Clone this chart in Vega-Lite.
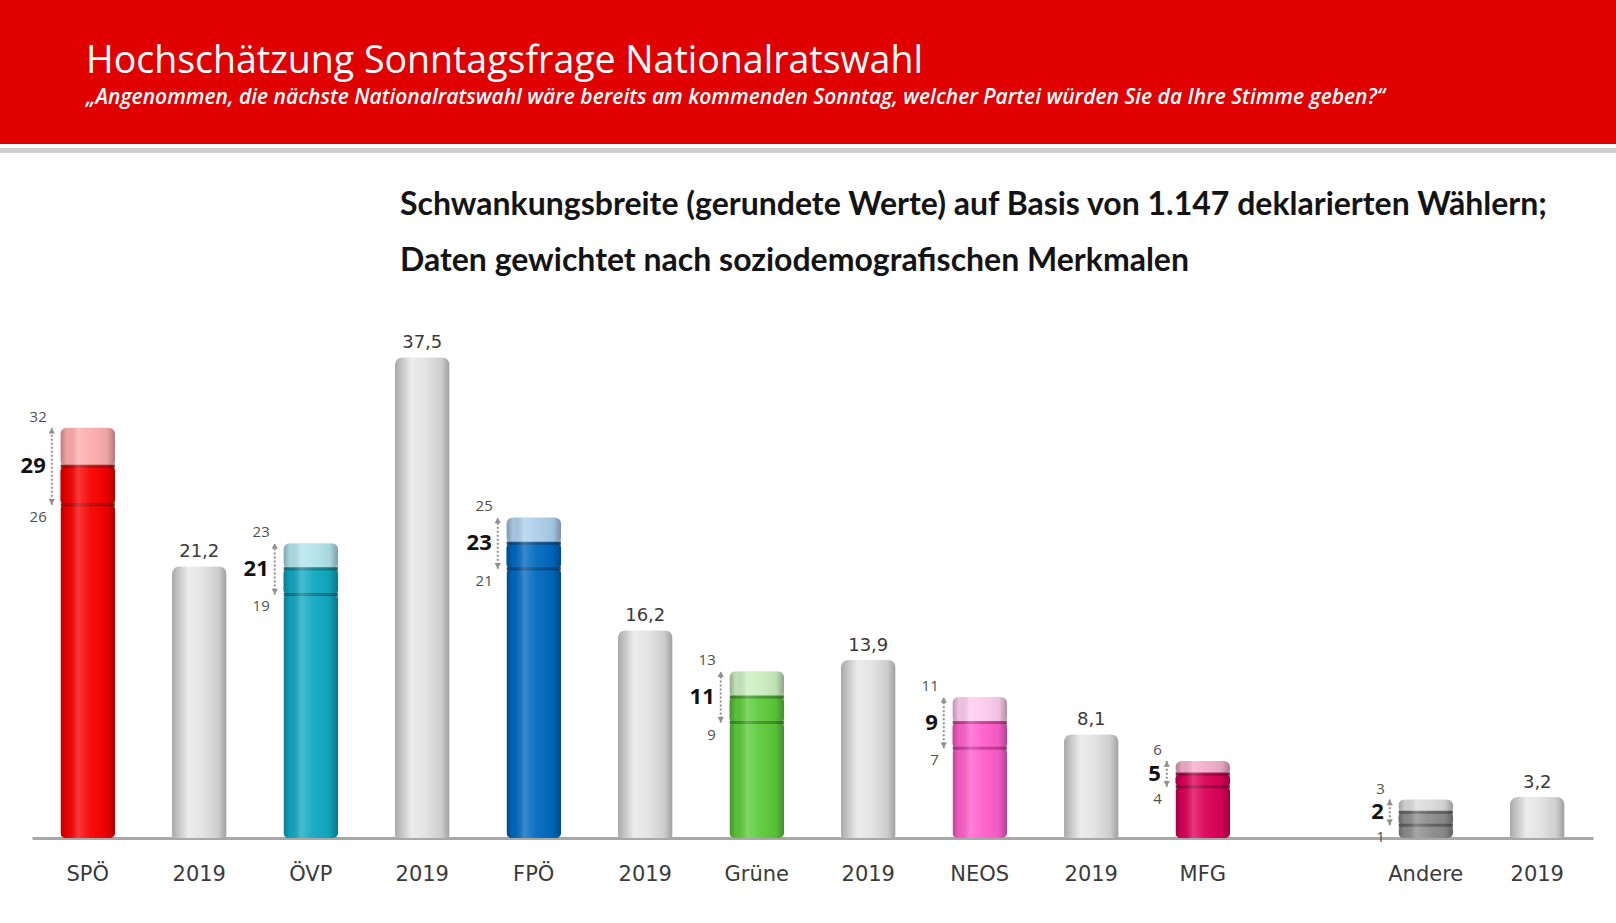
{
  "$schema": "https://vega.github.io/schema/vega-lite/v6.json",
  "padding": 0,
  "background": "white",
  "spacing": 33,
  "config": {
    "view": {"stroke": null},
    "locale": {"number": {"decimal": ",", "thousands": ".", "grouping": [3], "currency": ["", " €"]}}
  },
  "vconcat": [
    {
      "spacing": 0,
      "vconcat": [
        {
          "width": 1616,
          "height": 144,
          "view": {"fill": "#e00000", "stroke": null},
          "title": {
            "text": "Hochschätzung Sonntagsfrage Nationalratswahl",
            "subtitle": "„Angenommen, die nächste Nationalratswahl wäre bereits am kommenden Sonntag, welcher Partei würden Sie da Ihre Stimme geben?“",
            "anchor": "start",
            "orient": "top",
            "offset": -108,
            "dx": 86,
            "font": "Open Sans",
            "fontSize": 37.5,
            "fontWeight": "normal",
            "color": "white",
            "subtitleFont": "Open Sans",
            "subtitleFontSize": 21,
            "subtitleFontStyle": "italic",
            "subtitleFontWeight": 600,
            "subtitleColor": "white",
            "subtitlePadding": 7
          },
          "data": {"values": [{"t": ""}]},
          "mark": "text",
          "encoding": {"text": {"field": "t"}}
        },
        {
          "width": 1616,
          "height": 5,
          "view": {"fill": "#cfcfcf", "stroke": null},
          "data": {"values": [{"t": ""}]},
          "mark": "text",
          "encoding": {"text": {"field": "t"}}
        }
      ]
    },
    {
      "width": 1616,
      "height": 500,
      "title": {
        "text": ["Schwankungsbreite (gerundete Werte) auf Basis von 1.147 deklarierten Wählern;", "Daten gewichtet nach soziodemografischen Merkmalen"],
        "anchor": "start",
        "orient": "top",
        "dx": 400,
        "offset": 56,
        "font": "Lato",
        "fontSize": 32,
        "fontWeight": "bold",
        "color": "#141414",
        "lineHeight": 56
      },
      "data": {"values": [
        {"cat": "SPÖ", "grp": "SPÖ", "value": 29, "low": 26, "high": 32},
        {"cat": "2019|1", "grp": "2019", "value": 21.2},
        {"cat": "ÖVP", "grp": "ÖVP", "value": 21, "low": 19, "high": 23},
        {"cat": "2019|2", "grp": "2019", "value": 37.5},
        {"cat": "FPÖ", "grp": "FPÖ", "value": 23, "low": 21, "high": 25},
        {"cat": "2019|3", "grp": "2019", "value": 16.2},
        {"cat": "Grüne", "grp": "Grüne", "value": 11, "low": 9, "high": 13},
        {"cat": "2019|4", "grp": "2019", "value": 13.9},
        {"cat": "NEOS", "grp": "NEOS", "value": 9, "low": 7, "high": 11},
        {"cat": "2019|5", "grp": "2019", "value": 8.1},
        {"cat": "MFG", "grp": "MFG", "value": 5, "low": 4, "high": 6},
        {"cat": "Andere", "grp": "Andere", "value": 2, "low": 1, "high": 3},
        {"cat": "2019|6", "grp": "2019", "value": 3.2}
      ]},
      "encoding": {
        "x": {
          "field": "cat",
          "type": "nominal",
          "sort": null,
          "scale": {
            "domain": ["SPÖ", "2019|1", "ÖVP", "2019|2", "FPÖ", "2019|3", "Grüne", "2019|4", "NEOS", "2019|5", "MFG", "|gap", "Andere", "2019|6"],
            "range": [32, 1593],
            "paddingInner": 0,
            "paddingOuter": 0
          },
          "axis": {
            "title": null,
            "labelExpr": "split(datum.value, '|')[0]",
            "labelAngle": 0,
            "labelFont": "DejaVu Sans",
            "labelFontSize": 21,
            "labelColor": "#3a3a3a",
            "labelPadding": 25,
            "ticks": false,
            "domainColor": "#a8a8a8",
            "domainWidth": 3,
            "grid": false
          }
        }
      },
      "layer": [
        {
          "transform": [{"filter": "datum.grp === '2019'"}],
          "mark": {
            "type": "bar",
            "width": {"band": 0.49},
            "cornerRadiusTopLeft": 8,
            "cornerRadiusTopRight": 8,
            "cornerRadiusBottomLeft": 3,
            "cornerRadiusBottomRight": 3,
            "fill": {"gradient": "linear", "x1": 0, "y1": 0, "x2": 1, "y2": 0,
              "stops": [
                {"offset": 0, "color": "#a9a9a9"},
                {"offset": 0.3, "color": "#ececec"},
                {"offset": 0.55, "color": "#e4e4e4"},
                {"offset": 0.85, "color": "#cdcdcd"},
                {"offset": 1, "color": "#9e9e9e"}
              ]}
          },
          "encoding": {
            "y": {"field": "value", "type": "quantitative", "scale": {"domain": [0, 39], "nice": false}, "axis": null}
          }
        },
        {
          "transform": [{"filter": "datum.grp !== '2019'"}],
          "mark": {"type": "bar", "width": {"band": 0.49}, "cornerRadius": 5},
          "encoding": {
            "y": {"field": "low", "type": "quantitative", "scale": {"domain": [0, 39], "nice": false}, "axis": null},
            "fill": {"field": "grp", "type": "nominal", "legend": null,
              "scale": {"domain": ["SPÖ", "ÖVP", "FPÖ", "Grüne", "NEOS", "MFG", "Andere"],
                "range": ["#f80000", "#10a9c2", "#0069bf", "#5ccb3a", "#ff5fcb", "#dc0058", "#8e8e8e"]}}
          }
        },
        {
          "transform": [{"filter": "datum.grp !== '2019'"}],
          "mark": {"type": "bar", "width": {"band": 0.49}, "cornerRadius": 5},
          "encoding": {
            "y": {"field": "value", "type": "quantitative", "scale": {"domain": [0, 39], "nice": false}, "axis": null},
            "y2": {"field": "low"},
            "fill": {"field": "grp", "type": "nominal", "legend": null}
          }
        },
        {
          "transform": [{"filter": "datum.grp !== '2019'"}],
          "mark": {"type": "bar", "width": {"band": 0.49}, "cornerRadius": 7, "fillOpacity": 0.32},
          "encoding": {
            "y": {"field": "high", "type": "quantitative", "scale": {"domain": [0, 39], "nice": false}, "axis": null},
            "y2": {"field": "value"},
            "fill": {"field": "grp", "type": "nominal", "legend": null}
          }
        },
        {
          "transform": [{"filter": "datum.grp !== '2019'"}],
          "mark": {"type": "rule", "strokeWidth": 3, "opacity": 0.85},
          "encoding": {
            "x": {"field": "cat", "type": "nominal", "bandPosition": 0.258},
            "x2": {"field": "cat", "bandPosition": 0.742},
            "y": {"field": "low", "type": "quantitative", "scale": {"domain": [0, 39], "nice": false}, "axis": null},
            "stroke": {"field": "grp", "type": "nominal", "legend": null,
              "scale": {"domain": ["SPÖ", "ÖVP", "FPÖ", "Grüne", "NEOS", "MFG", "Andere"],
                "range": ["#a80000", "#066f80", "#003f7a", "#338a1c", "#c02c8e", "#8e0036", "#555555"]}}
          }
        },
        {
          "transform": [{"filter": "datum.grp !== '2019'"}],
          "mark": {"type": "rule", "strokeWidth": 3, "opacity": 0.85},
          "encoding": {
            "x": {"field": "cat", "type": "nominal", "bandPosition": 0.258},
            "x2": {"field": "cat", "bandPosition": 0.742},
            "y": {"field": "value", "type": "quantitative", "scale": {"domain": [0, 39], "nice": false}, "axis": null},
            "stroke": {"field": "grp", "type": "nominal", "legend": null}
          }
        },
        {
          "transform": [{"filter": "datum.grp !== '2019'"}],
          "mark": {
            "type": "bar",
            "width": {"band": 0.49},
            "cornerRadius": 6,
            "fill": {"gradient": "linear", "x1": 0, "y1": 0, "x2": 1, "y2": 0,
              "stops": [
                {"offset": 0, "color": "rgba(0,0,0,0.28)"},
                {"offset": 0.12, "color": "rgba(0,0,0,0.05)"},
                {"offset": 0.32, "color": "rgba(255,255,255,0.22)"},
                {"offset": 0.55, "color": "rgba(255,255,255,0.05)"},
                {"offset": 0.85, "color": "rgba(0,0,0,0.06)"},
                {"offset": 1, "color": "rgba(0,0,0,0.3)"}
              ]}
          },
          "encoding": {
            "y": {"field": "high", "type": "quantitative", "scale": {"domain": [0, 39], "nice": false}, "axis": null}
          }
        },
        {
          "transform": [{"filter": "datum.grp !== '2019'"}],
          "mark": {"type": "rule", "xOffset": -36, "strokeWidth": 2, "strokeDash": [2, 2], "color": "#8f8f8f"},
          "encoding": {
            "y": {"field": "low", "type": "quantitative", "scale": {"domain": [0, 39], "nice": false}, "axis": null},
            "y2": {"field": "high"}
          }
        },
        {
          "transform": [{"filter": "datum.grp !== '2019'"}],
          "mark": {"type": "point", "shape": "triangle-up", "filled": true, "size": 40, "opacity": 1, "xOffset": -36, "yOffset": 3, "color": "#8f8f8f"},
          "encoding": {
            "y": {"field": "high", "type": "quantitative", "scale": {"domain": [0, 39], "nice": false}, "axis": null}
          }
        },
        {
          "transform": [{"filter": "datum.grp !== '2019'"}],
          "mark": {"type": "point", "shape": "triangle-down", "filled": true, "size": 40, "opacity": 1, "xOffset": -36, "yOffset": -3, "color": "#8f8f8f"},
          "encoding": {
            "y": {"field": "low", "type": "quantitative", "scale": {"domain": [0, 39], "nice": false}, "axis": null}
          }
        },
        {
          "transform": [{"filter": "datum.grp !== '2019'"}],
          "mark": {"type": "text", "align": "right", "baseline": "middle", "dx": -42, "font": "Open Sans", "fontSize": 22, "fontWeight": "bold", "color": "#111111"},
          "encoding": {
            "y": {"field": "value", "type": "quantitative", "scale": {"domain": [0, 39], "nice": false}, "axis": null},
            "text": {"field": "value", "type": "quantitative", "format": "d"}
          }
        },
        {
          "transform": [{"filter": "datum.grp !== '2019'"}],
          "mark": {"type": "text", "align": "right", "baseline": "middle", "dx": -41, "dy": -11, "font": "Open Sans", "fontSize": 15, "color": "#505050"},
          "encoding": {
            "y": {"field": "high", "type": "quantitative", "scale": {"domain": [0, 39], "nice": false}, "axis": null},
            "text": {"field": "high", "type": "quantitative", "format": "d"}
          }
        },
        {
          "transform": [{"filter": "datum.grp !== '2019'"}],
          "mark": {"type": "text", "align": "right", "baseline": "middle", "dx": -41, "dy": 12, "font": "Open Sans", "fontSize": 15, "color": "#505050"},
          "encoding": {
            "y": {"field": "low", "type": "quantitative", "scale": {"domain": [0, 39], "nice": false}, "axis": null},
            "text": {"field": "low", "type": "quantitative", "format": "d"}
          }
        },
        {
          "transform": [{"filter": "datum.grp === '2019'"}],
          "mark": {"type": "text", "align": "center", "baseline": "bottom", "dy": -5, "font": "DejaVu Sans", "fontSize": 18, "color": "#3a3a3a"},
          "encoding": {
            "y": {"field": "value", "type": "quantitative", "scale": {"domain": [0, 39], "nice": false}, "axis": null},
            "text": {"field": "value", "type": "quantitative", "format": ".1f"}
          }
        }
      ]
    }
  ]
}
